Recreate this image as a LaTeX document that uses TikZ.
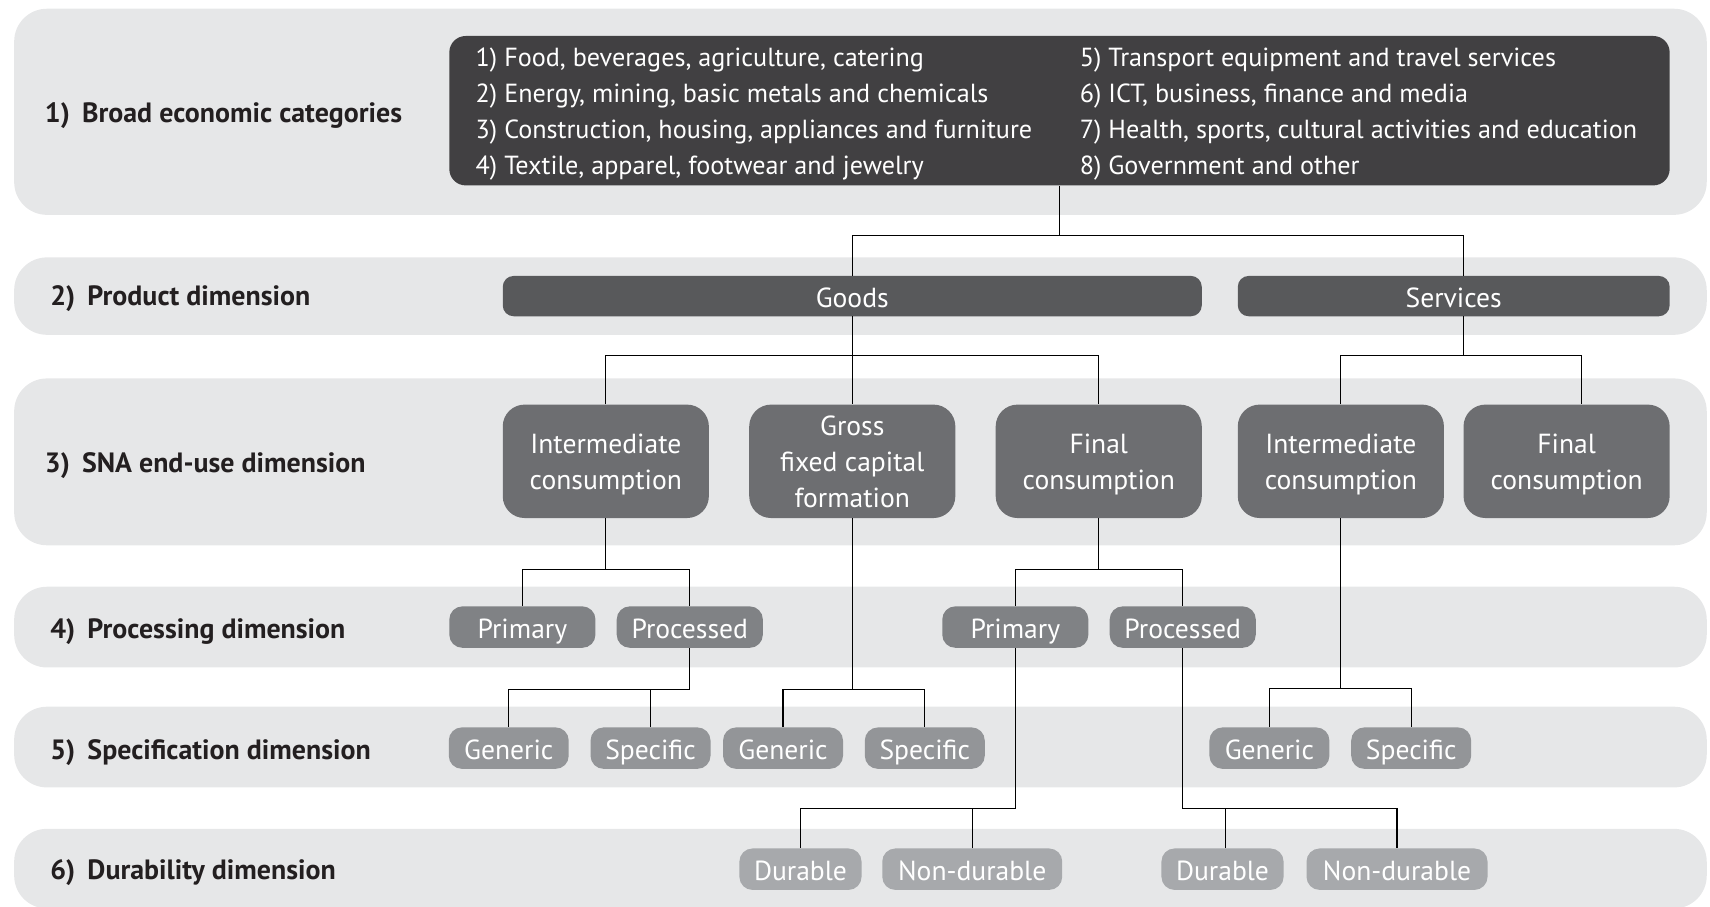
\documentclass[tikz,border=0pt]{standalone}
\usepackage{fontspec}
\setmainfont{PT Sans}
\usepackage{tikz}
\usetikzlibrary{positioning,%
  calc%
}

\definecolor{bandgray}{HTML}{E6E7E8}
\definecolor{catgray}{HTML}{414042}
\definecolor{prodgray}{HTML}{58595B}
\definecolor{snagray}{HTML}{6D6E71}
\definecolor{procgray}{HTML}{808285}
\definecolor{specgray}{HTML}{939598}
\definecolor{durgray}{HTML}{A7A9AC}
\definecolor{labelblack}{HTML}{231F20}

\newcommand{\dimnum}[1]{\makebox[34pt][l]{#1}}

\begin{document}
\begin{tikzpicture}[x=1pt,y=-1pt,
    band/.style={fill=bandgray,rounded corners=30pt},
    box/.style={rectangle,text=white,inner sep=0pt,align=center,
      font=\fontsize{25.3}{33}\selectfont},
    oneline/.style={text height=21pt,text depth=0pt},
    catbox/.style={box,fill=catgray,minimum width=1119pt,minimum height=137pt,rounded corners=15pt},
    cattext/.style={anchor=base west,inner sep=0pt,text=white,font=\fontsize{24}{33}\selectfont},
    prodbox/.style={box,oneline,fill=prodgray,minimum height=37pt,rounded corners=10pt},
    snabox/.style={box,fill=snagray,minimum width=189pt,minimum height=104pt,rounded corners=20pt,
      text depth=0pt},
    procbox/.style={box,oneline,fill=procgray,minimum width=134pt,minimum height=38pt,rounded corners=12pt},
    specbox/.style={box,oneline,fill=specgray,minimum width=110pt,minimum height=38pt,rounded corners=12pt},
    durbox/.style={box,oneline,fill=durgray,minimum height=38pt,rounded corners=12pt},
    dimlabel/.style={anchor=base west,inner sep=0pt,text=labelblack,
      font=\fontsize{25.6}{28}\selectfont\bfseries},
    link/.style={draw=black,line width=1.1pt}]

  \useasboundingbox (0,0) rectangle (1568,831);

  % background bands
  \fill[band] (13,8) rectangle (1565,197);
  \fill[band] (13,236) rectangle (1565,307);
  \fill[band] (13,347) rectangle (1565,500);
  \fill[band] (13,538) rectangle (1565,612);
  \fill[band] (13,648) rectangle (1565,722);
  \fill[band] (13,760) rectangle (1565,833);

  % dimension labels
  \node[dimlabel] (dim1) at (41,112.5) {\dimnum{1)}Broad economic categories};
  \node[dimlabel] (dim2) at (46,280.5) {\dimnum{2)}Product dimension};
  \node[dimlabel] (dim3) at (41,433.5) {\dimnum{3)}SNA end-use dimension};
  \node[dimlabel] (dim4) at (46,585.5) {\dimnum{4)}Processing dimension};
  \node[dimlabel] (dim5) at (46,696.5) {\dimnum{5)}Specification dimension};
  \node[dimlabel] (dim6) at (46,806.5) {\dimnum{6)}Durability dimension};

  % broad economic categories
  \node[catbox] (cats) at (971.5,101.5) {};
  \foreach \txt [count=\i] in {{1) Food, beverages, agriculture, catering},
      {2) Energy, mining, basic metals and chemicals},
      {3) Construction, housing, appliances and furniture},
      {4) Textile, apparel, footwear and jewelry}}
    \node[cattext] (catl\i) at (436,28+33*\i) {\txt};
  \foreach \txt [count=\i] in {{5) Transport equipment and travel services},
      {6) ICT, business, finance and media},
      {7) Health, sports, cultural activities and education},
      {8) Government and other}}
    \node[cattext] (catr\i) at (990,28+33*\i) {\txt};

  % product dimension
  \node[prodbox,minimum width=641pt] (goods) at (781.5,271.5) {Goods};
  \node[prodbox,minimum width=396pt] (serv) at (1333,271.5) {Services};

  % SNA end-use dimension
  \node[snabox] (ic1) at (555.5,423) {Intermediate\\consumption};
  \node[snabox] (gfcf) at (781.5,423) {Gross\\fixed capital\\formation};
  \node[snabox] (fc1) at (1007.5,423) {Final\\consumption};
  \node[snabox] (ic2) at (1229.5,423) {Intermediate\\consumption};
  \node[snabox] (fc2) at (1436.5,423) {Final\\consumption};

  % processing dimension
  \node[procbox] (prim1) at (479,575) {Primary};
  \node[procbox] (proc1) at (632.5,575) {Processed};
  \node[procbox] (prim2) at (931,575) {Primary};
  \node[procbox] (proc2) at (1084.5,575) {Processed};

  % specification dimension
  \node[specbox] (gen1) at (466.5,686) {Generic};
  \node[specbox] (spe1) at (596.5,686) {Specific};
  \node[specbox] (gen2) at (718,686) {Generic};
  \node[specbox] (spe2) at (848,686) {Specific};
  \node[specbox] (gen3) at (1164,686) {Generic};
  \node[specbox] (spe3) at (1294,686) {Specific};

  % durability dimension
  \node[durbox,minimum width=112pt] (dur1) at (734,797) {Durable};
  \node[durbox,minimum width=165pt] (nond1) at (891.5,797) {Non-durable};
  \node[durbox,minimum width=112pt] (dur2) at (1121,797) {Durable};
  \node[durbox,minimum width=166pt] (nond2) at (1281,797) {Non-durable};

  % junctions of the tree
  \path (cats.south) ++(0,46) coordinate (j1);
  \path (goods.south) ++(0,36) coordinate (j2);
  \path ([xshift=9pt]serv.south) ++(0,36) coordinate (j3);
  \path (ic1.south) ++(0,47) coordinate (j4);
  \path (proc1.south) ++(0,38) coordinate (j5);
  \coordinate (j6) at (gfcf.south |- j5);
  \path (fc1.south) ++(0,47) coordinate (j7);
  \path (prim2.south) ++(0,147) coordinate (j8);
  \path (proc2.south) ++(0,147) coordinate (j9);
  \path (ic2.south) ++(0,156) coordinate (j10);

  % connectors
  \draw[link] (cats.south) -- (j1);
  \draw[link] (goods.north) |- (j1) -| ([xshift=9pt]serv.north);

  \draw[link] (goods.south) -- (gfcf.north);
  \draw[link] (ic1.north) |- (j2) -| (fc1.north);
  \draw[link] ([xshift=9pt]serv.south) -- (j3);
  \draw[link] (ic2.north) |- (j3) -| ([xshift=13.5pt]fc2.north);

  \draw[link] (ic1.south) -- (j4);
  \draw[link] (prim1.north) |- (j4) -| (proc1.north);
  \draw[link] (proc1.south) -- (j5) -| (gen1.north);
  \draw[link] (spe1.north) -- (spe1.north |- j5);

  \draw[link] (gfcf.south) -- (j6);
  \draw[link] (gen2.north) |- (j6) -| (spe2.north);

  \draw[link] (fc1.south) -- (j7);
  \draw[link] (prim2.north) |- (j7) -| (proc2.north);
  \draw[link] (prim2.south) -- (j8) -| (dur1.north);
  \draw[link] (nond1.north) -- (nond1.north |- j8);
  \draw[link] (proc2.south) -- (j9) -| (nond2.north);
  \draw[link] ([xshift=3pt]dur2.north) -- ([xshift=3pt]dur2.north |- j9);

  \draw[link] (ic2.south) -- (j10);
  \draw[link] (gen3.north) |- (j10) -| (spe3.north);
\end{tikzpicture}
\end{document}
